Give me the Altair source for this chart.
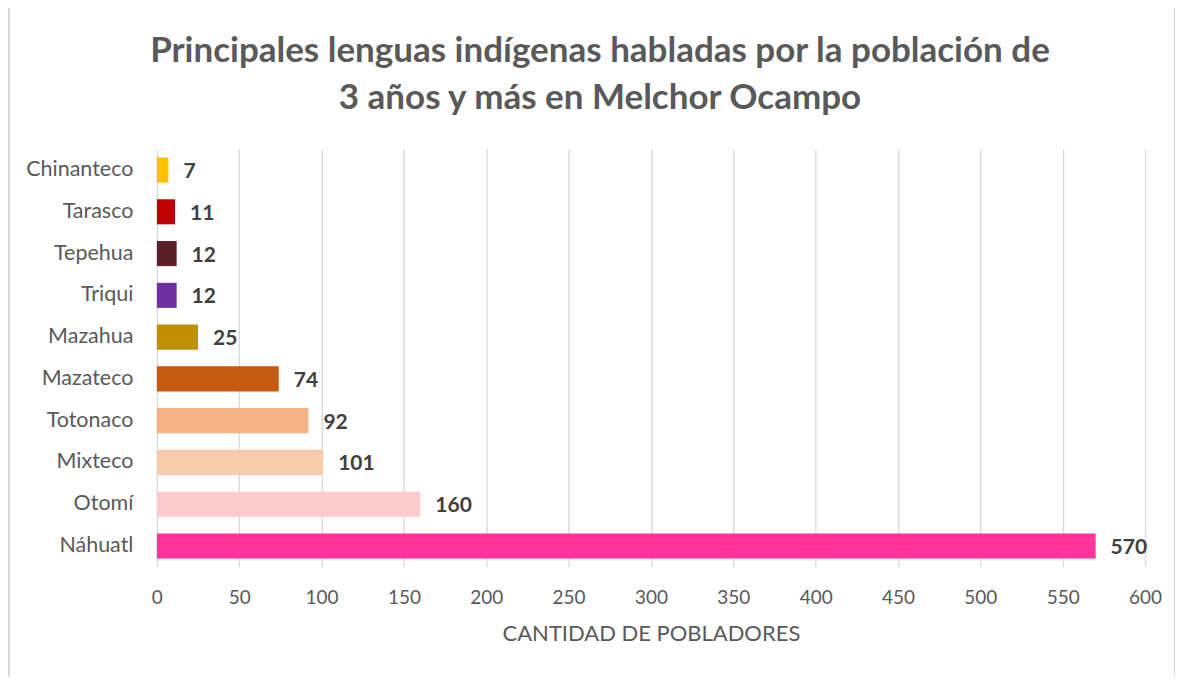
import altair as alt
import pandas as pd

languages = ["Chinanteco", "Tarasco", "Tepehua", "Triqui", "Mazahua", "Mazateco",
             "Totonaco", "Mixteco", "Otomí", "Náhuatl"]
values = [7, 11, 12, 12, 25, 74, 92, 101, 160, 570]
colors = ["#FFC000", "#C00000", "#5C1F27", "#7030A0", "#BF9000", "#C55A11",
          "#F4B183", "#F8CBAD", "#FDCBCB", "#FF3399"]
x_ticks = list(range(0, 601, 50))

df = pd.DataFrame({"lengua": languages, "valor": values, "color": colors})

FONT = "Lato"

y_enc = alt.Y("lengua:N", sort=languages, title=None,
              scale=alt.Scale(paddingInner=0.4, paddingOuter=0.2),
              axis=alt.Axis(labelFontSize=21.5, labelColor="#595959", labelFont=FONT,
                            labelPadding=24, ticks=False, domain=False, grid=False))
x_enc = alt.X("valor:Q", title="CANTIDAD DE POBLADORES",
              scale=alt.Scale(domain=[0, 600], nice=False),
              axis=alt.Axis(values=x_ticks, labelFontSize=19, labelColor="#595959",
                            labelFont=FONT, titleFont=FONT, titleFontSize=22,
                            titleFontWeight="normal", titleColor="#595959",
                            titlePadding=16, labelPadding=22, labelFlush=False,
                            ticks=False, domain=False,
                            grid=True, gridColor="#D9D9D9", gridWidth=1.3))

bars = alt.Chart(df).mark_bar().encode(
    y=y_enc, x=x_enc,
    color=alt.Color("color:N", scale=None, legend=None),
)

labels = alt.Chart(df).mark_text(align="left", baseline="middle", dx=15, dy=2,
                                 fontSize=21, fontWeight="bold", color="#404040",
                                 font=FONT).encode(
    y=alt.Y("lengua:N", sort=languages), x="valor:Q", text="valor:Q")

frame = alt.Chart(df).mark_rect(fill=None, stroke="#D9D9D9", strokeWidth=1.3).encode(
    x=alt.value(-148), x2=alt.value(1019), y=alt.value(-142), y2=alt.value(529))

chart = alt.layer(frame, bars, labels).properties(
    width=989, height=418,
    title=alt.Title(["Principales lenguas indígenas habladas por la población de",
                     "3 años y más en Melchor Ocampo"],
                    fontSize=35, font=FONT, fontWeight="bold", color="#595959",
                    anchor="middle", dx=-51, dy=109, lineHeight=47, offset=0),
    autosize=alt.AutoSizeParams(type="none"),
    padding={"left": 149, "top": 141, "right": 30, "bottom": 110},
).configure(background="white", view=alt.ViewConfig(stroke=None))

chart.save("out.html", embed_options={"renderer": "svg", "actions": False})
